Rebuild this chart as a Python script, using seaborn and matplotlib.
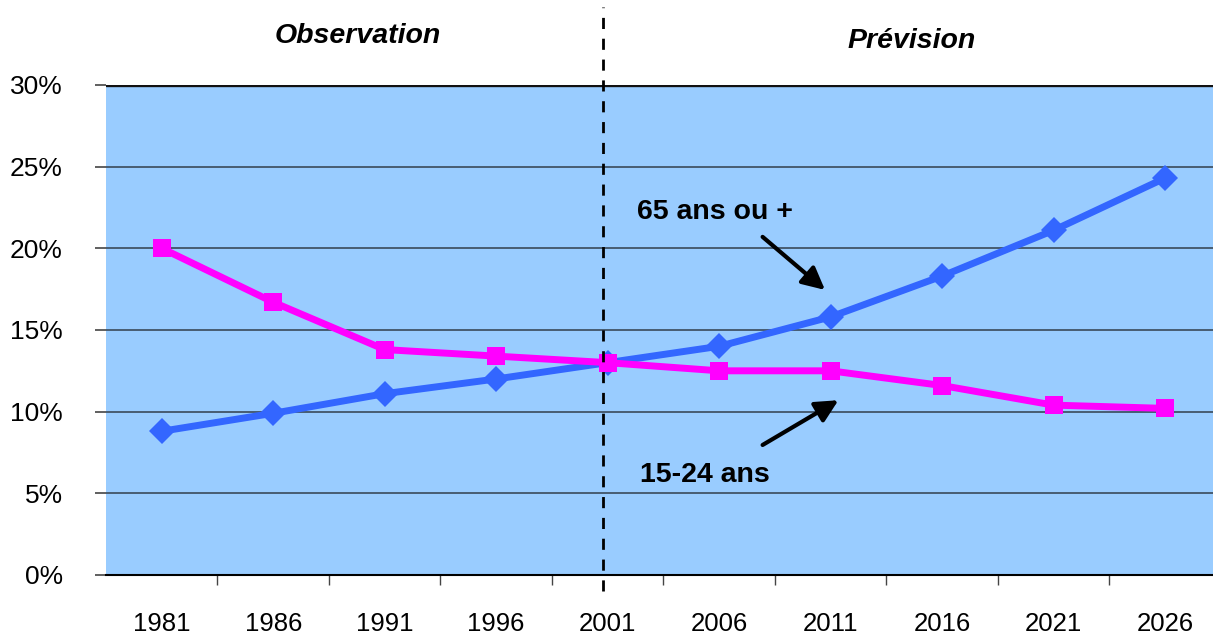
import numpy as np
import pandas as pd
import matplotlib
matplotlib.use("Agg")
import matplotlib.pyplot as plt
import seaborn as sns

# data (share of population, %)
annees = ["1981", "1986", "1991", "1996", "2001", "2006", "2011", "2016", "2021", "2026"]
age_65_plus = [8.8, 9.9, 11.1, 12.0, 13.0, 14.0, 15.8, 18.3, 21.1, 24.3]
age_15_24 = [20.0, 16.7, 13.8, 13.4, 13.0, 12.5, 12.5, 11.6, 10.4, 10.2]
yticks = [0, 5, 10, 15, 20, 25, 30]

idx = np.arange(len(annees))
df = pd.DataFrame({
    "pos": np.concatenate([idx, idx]),
    "valeur": age_65_plus + age_15_24,
    "groupe": ["65 ans ou +"] * len(annees) + ["15-24 ans"] * len(annees),
})

sns.set_style("white")
plt.rcParams["font.family"] = ["Liberation Sans", "DejaVu Sans"]
plt.rcParams["text.color"] = "black"

fig = plt.figure(figsize=(12.13, 6.35), dpi=100)
# axes runs a bit past the right edge of the figure, like the reference crop
ax = fig.add_axes([0.0874, 0.0945, 0.919, 0.7717])
ax.set_facecolor("#99CCFF")

for y in yticks[1:]:
    ax.axhline(y, color="#111111" if y == 30 else "#3a4a5a",
               lw=2.4 if y == 30 else 1.2, zorder=1)

sns.lineplot(data=df, x="pos", y="valeur", hue="groupe", style="groupe",
             palette={"65 ans ou +": "#3366FF", "15-24 ans": "#FF00FF"},
             markers={"65 ans ou +": "D", "15-24 ans": "s"},
             dashes=False, lw=5, markersize=13, markeredgewidth=0,
             legend=False, ax=ax, zorder=3)

ax.set_xlim(-0.5, len(annees) - 0.5)
ax.set_ylim(0, 30)
ax.set_xticks(idx)
ax.set_xticklabels(annees, fontsize=18.5)
ax.set_xticks(idx[:-1] + 0.5, minor=True)
ax.tick_params(axis="x", which="major", length=0, pad=27, labelcolor="black")
ax.tick_params(axis="x", which="minor", length=7, width=1, color="#444444",
               direction="out", bottom=True)
ax.set_yticks(yticks)
ax.set_yticklabels([f"{v}%" for v in yticks], fontsize=19)
ax.tick_params(axis="y", length=8, width=1.2, color="#444444", pad=23,
               direction="out", left=True, labelcolor="black")
ax.set_xlabel("")
ax.set_ylabel("")
for side in ["top", "right", "left"]:
    ax.spines[side].set_visible(False)
ax.spines["bottom"].set_color("black")
ax.spines["bottom"].set_linewidth(1.5)

# observation / forecast split
ax.plot([3.96, 3.96], [-1.0, 34.8], color="black", lw=2, ls=(0, (4, 3.5)),
        clip_on=False, zorder=4)
ax.text(1.76, 33.0, "Observation", fontsize=20.5, fontweight="bold",
        fontstyle="italic", ha="center", va="center")
ax.text(6.73, 32.7, "Prévision", fontsize=20.5, fontweight="bold",
        fontstyle="italic", ha="center", va="center")

ax.text(4.96, 22.2, "65 ans ou +", fontsize=20.5, fontweight="bold",
        ha="center", va="center")
ax.text(4.87, 6.1, "15-24 ans", fontsize=20.5, fontweight="bold",
        ha="center", va="center")
arrow = dict(arrowstyle="-|>", color="black", lw=3, mutation_scale=34,
             shrinkA=0, shrinkB=0)
ax.annotate("", xy=(5.95, 17.45), xytext=(5.39, 20.7), arrowprops=arrow)
ax.annotate("", xy=(6.07, 10.7), xytext=(5.39, 7.96), arrowprops=arrow)

fig.savefig("out.png", dpi=100)
